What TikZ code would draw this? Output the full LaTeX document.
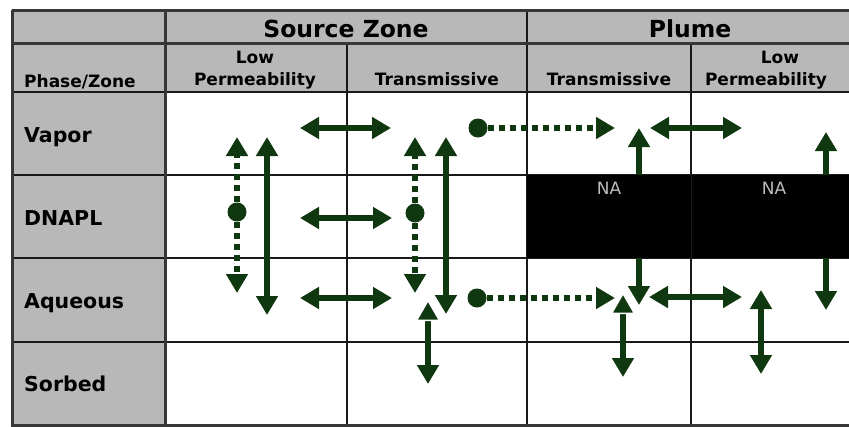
\documentclass[tikz,border=0pt]{standalone}
\usepackage{fontspec}
\setmainfont{DejaVu Sans}
\usetikzlibrary{arrows.meta}
\definecolor{hdrfill}{RGB}{184,184,184}
\definecolor{arr}{RGB}{16,56,16}
\definecolor{gridc}{RGB}{25,25,25}
\definecolor{framec}{RGB}{55,55,55}
\definecolor{natext}{RGB}{190,190,190}
\begin{document}
\begin{tikzpicture}[x=1pt,y=-1pt,
  tipA/.tip={Triangle[length=19pt,width=21pt]},
  tipW/.tip={Triangle[length=22pt,width=25pt,color=white,fill=arr,line width=1.5pt]},
  biarrow/.style={draw=arr,line width=5.5pt,tipA-tipA},
  haloarrow/.style={draw=arr,line width=5.5pt,tipW-tipA},
  dotarrow/.style={draw=arr,line width=6pt,dash pattern=on 6pt off 5pt,-tipA},
  srcdot/.style={circle,fill=arr,minimum size=19pt,inner sep=0pt},
  title/.style={font=\fontsize{23.5}{26}\selectfont\bfseries,anchor=base,inner sep=0pt},
  colhead/.style={font=\fontsize{17}{20}\selectfont\bfseries,anchor=base,inner sep=0pt},
  rowhead/.style={font=\fontsize{20.5}{23}\selectfont\bfseries,anchor=base west,inner sep=0pt},
  natag/.style={font=\fontsize{17}{20}\selectfont,text=natext,anchor=base,inner sep=0pt},
  gridline/.style={draw=gridc,line width=1.6pt},
  thickline/.style={draw=framec,line width=3pt}
]
\useasboundingbox (0,0) rectangle (849,426);
\clip (0,0) rectangle (849,426);
\fill[white] (0,0) rectangle (849,426);
% grey header fills
\fill[hdrfill] (12,10) rectangle (860,92);
\fill[hdrfill] (12,92) rectangle (165,425);
% grid lines
\draw[gridline] (165,175) -- (860,175);
\draw[gridline] (165,258) -- (860,258);
\draw[gridline] (165,342) -- (860,342);
\draw[gridline] (12,175) -- (165,175);
\draw[gridline] (12,258) -- (165,258);
\draw[gridline] (12,342) -- (165,342);
\draw[gridline] (12,92) -- (860,92);
\draw[gridline] (347,43) -- (347,425);
\draw[gridline] (691,43) -- (691,425);
\draw[gridline] (527,10) -- (527,425);
\draw[thickline] (165,10) -- (165,425);
\draw[thickline] (12,43) -- (860,43);
\draw[thickline] (12,10) -- (860,10) (12,10) -- (12,425) -- (860,425);

% header texts
\node[title] (src) at (346,37.5) {Source Zone};
\node[title] (plume) at (690,37.5) {Plume};
\node[colhead,anchor=base west] (phz) at (24,87) {Phase/Zone};
\node[colhead] (lp1a) at (255,63) {Low};
\node[colhead] (lp1b) at (255,85) {Permeability};
\node[colhead] (tr1) at (437,85) {Transmissive};
\node[colhead] (tr2) at (609,85) {Transmissive};
\node[colhead] (lp2a) at (780,63) {Low};
\node[colhead] (lp2b) at (766,85) {Permeability};
% row labels
\node[rowhead] (vap) at (24,142) {Vapor};
\node[rowhead] (dnapl) at (24,225) {DNAPL};
\node[rowhead] (aq) at (24,308) {Aqueous};
\node[rowhead] (sorb) at (24,391) {Sorbed};

% arrow end points
\coordinate (a1t) at (237,137); \coordinate (a1b) at (237,293);
\coordinate (a2t) at (267,137); \coordinate (a2b) at (267,315);
\coordinate (h1l) at (300,128); \coordinate (h1r) at (391,128);
\coordinate (h2l) at (300,218); \coordinate (h2r) at (392,218);
\coordinate (h3l) at (300,298); \coordinate (h3r) at (392,298);
\coordinate (a6t) at (415,137); \coordinate (a6b) at (415,293);
\coordinate (a7t) at (446,137); \coordinate (a7b) at (446,314);
\coordinate (a8t) at (428,299); \coordinate (a8b) at (428,384);
\coordinate (d1e) at (615,298);
\coordinate (d2e) at (615,128);
\coordinate (a11t) at (639,128); \coordinate (a11b) at (639,305);
\coordinate (h4l) at (650,128); \coordinate (h4r) at (742,128);
\coordinate (h5l) at (649,297); \coordinate (h5r) at (742,297);
\coordinate (a14t) at (623,292); \coordinate (a14b) at (623,377);
\coordinate (a15t) at (761,290); \coordinate (a15b) at (761,374);
\coordinate (a16t) at (826,132); \coordinate (a16b) at (826,310);

% source dots
\node[srcdot] (s1) at (237,212) {};
\node[srcdot] (s2) at (415,213) {};
\node[srcdot] (s3) at (477,298) {};
\node[srcdot] (s4) at (478,128) {};

% dotted arrows
\draw[dotarrow] (s1) -- (a1t);
\draw[dotarrow] (s1) -- (a1b);
\draw[dotarrow] (s2) -- (a6t);
\draw[dotarrow] (s2) -- (a6b);
\draw[dotarrow] (s3) -- (d1e);
\draw[dotarrow] (s4) -- (d2e);

% solid arrows
\draw[biarrow] (a2t) -- (a2b);
\draw[biarrow] (h1l) -- (h1r);
\draw[biarrow] (h2l) -- (h2r);
\draw[biarrow] (h3l) -- (h3r);
\draw[biarrow] (a7t) -- (a7b);
\draw[biarrow] (a11t) -- (a11b);
\draw[biarrow] (h4l) -- (h4r);
\draw[biarrow] (h5l) -- (h5r);
\draw[biarrow] (a15t) -- (a15b);
\draw[biarrow] (a16t) -- (a16b);
\draw[haloarrow] (a8t) -- (a8b);
\draw[haloarrow] (a14t) -- (a14b);

% NA block
\fill[black] (527,175) rectangle (860,258);
\draw[draw=gridc,line width=1pt] (691,175) -- (691,258);
\node[natag] (na1) at (609,194) {NA};
\node[natag] (na2) at (774,194) {NA};
\end{tikzpicture}
\end{document}
